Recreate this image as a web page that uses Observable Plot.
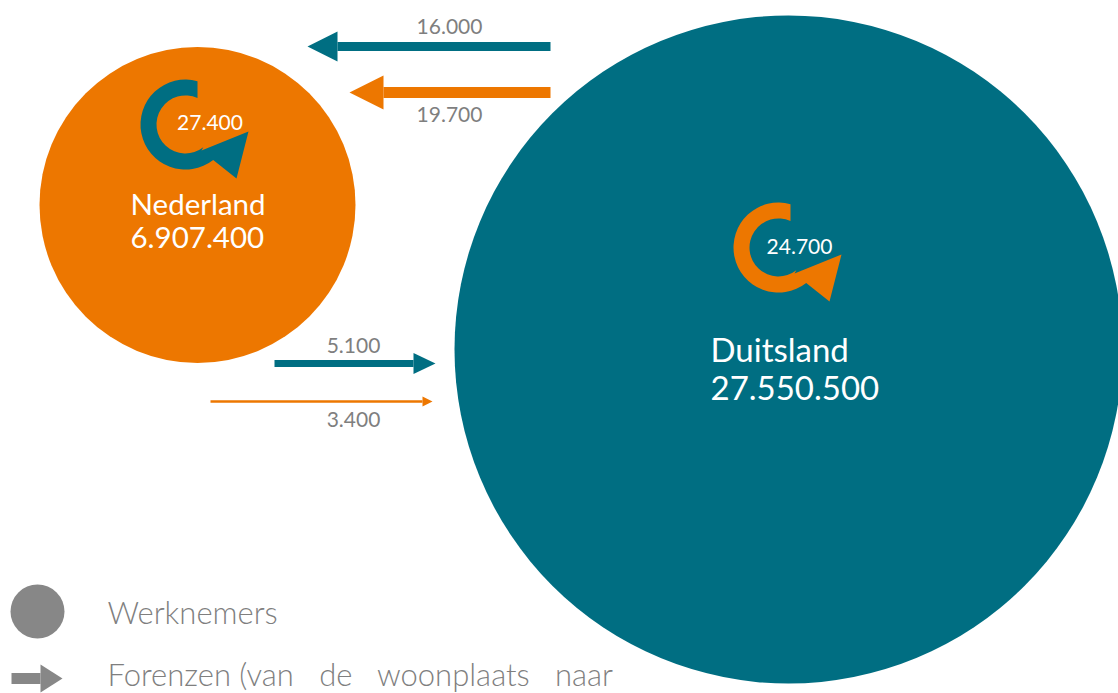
<!DOCTYPE html>
<html>
<head>
<meta charset="utf-8">
<script src="https://cdn.jsdelivr.net/npm/d3@7"></script>
<script src="https://cdn.jsdelivr.net/npm/@observablehq/plot@0.6"></script>
<style>
  html, body { margin: 0; padding: 0; background: #fff; overflow: hidden; }
  #chart svg { overflow: hidden; display: block; }
  #chart svg text { white-space: pre; }
</style>
</head>
<body>
<div id="chart"></div>
<script>
// ---------- DATA ----------
const landen = ["Nederland", "Duitsland"];
const werknemers = [6907400, 27550500];
const binnenNationaliteit = ["Duitsland", "Nederland"];
const binnenAantal = [27400, 24700];
const forenzenVan = ["Duitsland", "Duitsland", "Nederland", "Nederland"];
const forenzenNaar = ["Nederland", "Nederland", "Duitsland", "Duitsland"];
const forenzenNationaliteit = ["Duitsland", "Nederland", "Duitsland", "Nederland"];
const forenzenAantal = [16000, 19700, 5100, 3400];
const legendaLabels = ["Werknemers", "Forenzen (van   de   woonplaats   naar"];

// ---------- LAYOUT & STYLE ----------
const kleuren = {Nederland: "#ED7700", Duitsland: "#006E82"};
const grijs = "#7f7f7f";
const nodeLayout = {
  Nederland: {x: 197, y: 204.5, labelX: 130, nameY: 214, valueY: 247, size: 29.5,
              loopX: 185, loopY: 124, loopLabelX: 209.5, loopLabelY: 129},
  Duitsland: {x: 788, y: 349, labelX: 710, nameY: 361, valueY: 399, size: 33,
              loopX: 778, loopY: 247, loopLabelX: 799, loopLabelY: 253}
};
const flowLayout = [
  {y: 46,  x1: 550, x2: 307, head: 30, headW: 30, shaft: 9,   labelX: 449, labelY: 33},
  {y: 92,  x1: 550, x2: 349, head: 34, headW: 34, shaft: 11,  labelX: 449, labelY: 121},
  {y: 363, x1: 274, x2: 435, head: 22, headW: 21, shaft: 7,   labelX: 353, labelY: 352},
  {y: 401, x1: 210, x2: 432, head: 10, headW: 10, shaft: 2.5, labelX: 353, labelY: 426.5}
];
const legendLayout = [
  {x: 37, y: 611, textX: 107, textY: 623},
  {x1: 11, x2: 62, y: 678, head: 22, headW: 28, shaft: 11, textX: 107, textY: 685}
];

const fmt = d3.formatLocale({decimal: ",", thousands: ".", grouping: [3], currency: ["€", ""]}).format(",");

// ---------- TABLES ----------
const nodes = landen.map((land, i) => ({land, werknemers: werknemers[i], ...nodeLayout[land]}));
const loops = landen.map((land, i) => ({land, nationaliteit: binnenNationaliteit[i], aantal: binnenAantal[i], ...nodeLayout[land]}));
const flows = forenzenAantal.map((aantal, i) => {
  const L = flowLayout[i];
  const dir = L.x2 > L.x1 ? 1 : -1;
  return {van: forenzenVan[i], naar: forenzenNaar[i], nationaliteit: forenzenNationaliteit[i], aantal, dir, ...L};
});

// ---------- SYMBOLS ----------
function headSymbol(L, W, dir) {
  return {
    draw(ctx) {
      ctx.moveTo(0, 0);
      ctx.lineTo(-dir * L, -W / 2);
      ctx.lineTo(-dir * L, W / 2);
      ctx.closePath();
    }
  };
}
const loopSymbol = {
  draw(ctx) {
    const Ro = 45, Ri = 29, xc = 12;
    const yo = -Math.sqrt(Ro * Ro - xc * xc);
    const yi = -Math.sqrt(Ri * Ri - xc * xc);
    const a0 = Math.atan2(yo, xc);
    const a1 = 52 * Math.PI / 180;
    const b0 = Math.atan2(yi, xc);
    ctx.moveTo(xc, yo);
    ctx.arc(0, 0, Ro, a0, a1, true);
    ctx.lineTo(51, 54);
    ctx.lineTo(63, 7);
    ctx.lineTo(16, 26);
    ctx.lineTo(Ri * Math.cos(a1), Ri * Math.sin(a1));
    ctx.arc(0, 0, Ri, a1, b0, false);
    ctx.closePath();
  }
};

const legendRows = legendaLabels.map((label, i) => ({label, ...legendLayout[i]}));

// ---------- PLOT ----------
const chart = Plot.plot({
  width: 1118,
  height: 693,
  margin: 0,
  style: {fontFamily: "Lato, 'Open Sans', sans-serif", background: "#fff", overflow: "hidden"},
  x: {domain: [0, 1118], range: [0, 1118], axis: null},
  y: {domain: [0, 693], range: [0, 693], axis: null},
  r: {type: "linear", domain: [6907400, 27550500], range: [158, 334]},
  color: {domain: landen, range: landen.map(l => kleuren[l])},
  marks: [
    // employee circles
    Plot.dot(nodes, {x: "x", y: "y", r: "werknemers", fill: "land", stroke: null}),
    // internal loops
    Plot.dot(loops, {x: "loopX", y: "loopY", r: 10, symbol: loopSymbol, fill: "nationaliteit", stroke: null}),
    Plot.text(loops, {x: "loopLabelX", y: "loopLabelY", text: d => fmt(d.aantal), fill: "white",
                      fontSize: 21, lineAnchor: "bottom", textAnchor: "middle"}),
    // country labels
    Plot.text(nodes, {x: "labelX", y: "nameY", text: "land", fill: "white", fontSize: "size",
                      textAnchor: "start", lineAnchor: "bottom"}),
    Plot.text(nodes, {x: "labelX", y: "valueY", text: d => fmt(d.werknemers), fill: "white", fontSize: "size",
                      textAnchor: "start", lineAnchor: "bottom"}),
    // commuter arrows
    Plot.link(flows, {x1: "x1", y1: "y", x2: d => d.x2 - d.dir * d.head, y2: "y",
                      stroke: "nationaliteit", strokeWidth: "shaft"}),
    ...flows.map(f => Plot.dot([f], {x: "x2", y: "y", r: 10, symbol: headSymbol(f.head, f.headW, f.dir),
                                     fill: "nationaliteit", stroke: null})),
    Plot.text(flows, {x: "labelX", y: "labelY", text: d => fmt(d.aantal), fill: grijs,
                      fontSize: 21, lineAnchor: "bottom", textAnchor: "middle"}),
    // legend
    Plot.dot([legendRows[0]], {x: "x", y: "y", r: 27, fill: "#878787", stroke: null}),
    Plot.link([legendRows[1]], {x1: "x1", y1: "y", x2: d => d.x2 - d.head, y2: "y", stroke: "#878787", strokeWidth: "shaft"}),
    Plot.dot([legendRows[1]], {x: "x2", y: "y", r: 10, symbol: headSymbol(legendRows[1].head, legendRows[1].headW, 1),
                               fill: "#878787", stroke: null}),
    Plot.text(legendRows, {x: "textX", y: "textY", text: "label", fill: grijs, fontSize: 31, fontWeight: 300,
                           textAnchor: "start", lineAnchor: "bottom"})
  ]
});
document.getElementById("chart").appendChild(chart);
</script>
</body>
</html>
